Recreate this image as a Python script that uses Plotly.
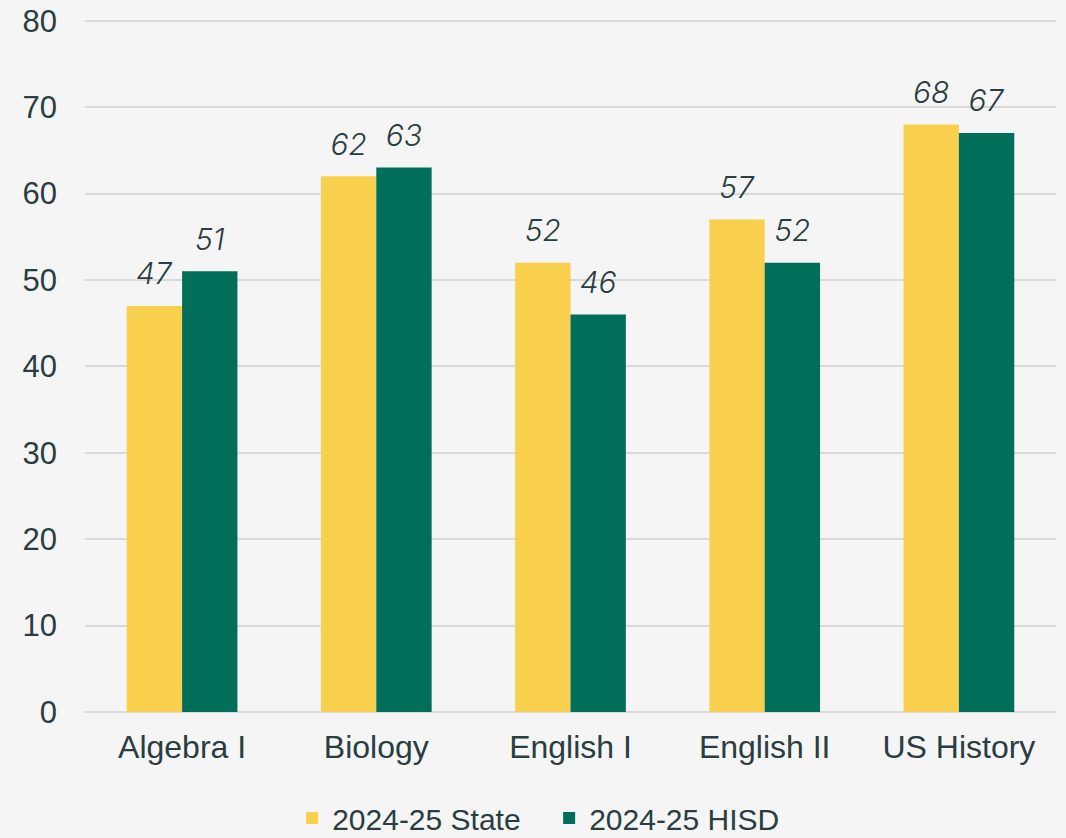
import plotly.graph_objects as go

categories = ["Algebra I", "Biology", "English I", "English II", "US History"]
state_values = [47, 62, 52, 57, 68]
hisd_values = [51, 63, 46, 52, 67]
series_names = ["2024-25 State", "2024-25 HISD"]
y_ticks = [0, 10, 20, 30, 40, 50, 60, 70, 80]

TEXT = "#2A3D41"
label_tpl = "<span style='font-size:30px'>%{y}</span><br> "

fig = go.Figure()
fig.add_trace(go.Bar(
    x=categories, y=state_values, name=series_names[0],
    marker=dict(color="#F9CF4E", line=dict(width=0)),
    texttemplate=label_tpl, textposition="outside", cliponaxis=False,
    textfont=dict(family="Inter", size=12, color=TEXT, style="italic", weight=300),
))
fig.add_trace(go.Bar(
    x=categories, y=hisd_values, name=series_names[1],
    marker=dict(color="#006E58", line=dict(width=0)),
    texttemplate=label_tpl, textposition="outside", cliponaxis=False,
    textfont=dict(family="Inter", size=12, color=TEXT, style="italic", weight=300),
))

fig.update_layout(
    width=1066, height=838,
    paper_bgcolor="#F5F5F5", plot_bgcolor="rgba(0,0,0,0)",
    margin=dict(l=85, r=10, t=19, b=126, autoexpand=False),
    barmode="group", bargap=0.43, bargroupgap=0,
    font=dict(family="Liberation Sans, Arial", color=TEXT, size=30),
    showlegend=True,
    legend=dict(orientation="h", x=0.478, xanchor="center", yref="container", y=0.024, yanchor="middle",
                font=dict(size=30, color=TEXT), entrywidth=212, entrywidthmode="pixels",
                traceorder="normal", bgcolor="rgba(0,0,0,0)"),
)
fig.update_xaxes(showgrid=False, showline=False, ticks="", tickfont=dict(size=32, color=TEXT),
                 ticklabelstandoff=13, automargin=False)
fig.update_yaxes(range=[0, 80.2], tickvals=y_ticks, showgrid=True, gridcolor="#D9D9D9", gridwidth=2,
                 zeroline=True, zerolinecolor="#D9D9D9", zerolinewidth=2, showline=False,
                 ticks="", tickfont=dict(size=31, color=TEXT), ticklabelstandoff=27, automargin=False)

fig.write_html("out.html", config={"displayModeBar": False},
               post_script="document.body.style.margin='0';document.body.style.overflow='hidden';")
